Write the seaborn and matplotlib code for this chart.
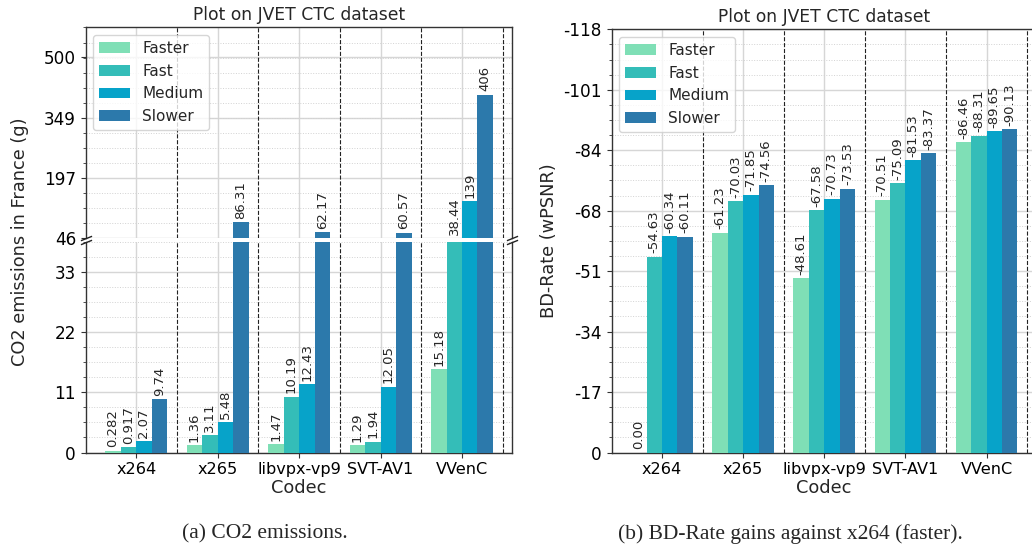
import numpy as np
import pandas as pd
import matplotlib
matplotlib.use("Agg")
import matplotlib.pyplot as plt
from matplotlib.ticker import AutoMinorLocator
import seaborn as sns

# ---------------- data ----------------
codecs = ["x264", "x265", "libvpx-vp9", "SVT-AV1", "VVenC"]
presets = ["Faster", "Fast", "Medium", "Slower"]

co2_faster = [0.282, 1.36, 1.47, 1.29, 15.18]
co2_fast = [0.917, 3.11, 10.19, 1.94, 38.44]
co2_medium = [2.07, 5.48, 12.43, 12.05, 139]
co2_slower = [9.74, 86.31, 62.17, 60.57, 406]

bd_faster = [0.00, -61.23, -48.61, -70.51, -86.46]
bd_fast = [-54.63, -70.03, -67.58, -75.09, -88.31]
bd_medium = [-60.34, -71.85, -70.73, -81.53, -89.65]
bd_slower = [-60.11, -74.56, -73.53, -83.37, -90.13]

colors = ["#7fdfb6", "#34bdb8", "#07a3c9", "#2c79ab"]

co2_top_ticks = [46, 197, 349, 500]
co2_bottom_ticks = [0, 11, 22, 33]
bd_tick_labels = ["0", "-17", "-34", "-51", "-68", "-84", "-101", "-118"]

co2_series = [co2_faster, co2_fast, co2_medium, co2_slower]
bd_series = [bd_faster, bd_fast, bd_medium, bd_slower]

rows = []
for p, cs, bs in zip(presets, co2_series, bd_series):
    for c, cv, bv in zip(codecs, cs, bs):
        rows.append({"Codec": c, "Preset": p, "CO2": cv, "BD": bv})
df = pd.DataFrame(rows)

# ---------------- style ----------------
sns.set_theme(style="ticks")
plt.rcParams["font.family"] = ["DejaVu Sans"]
plt.rcParams["axes.edgecolor"] = "#333333"
plt.rcParams["xtick.color"] = "#333333"
plt.rcParams["ytick.color"] = "#333333"
plt.rcParams["xtick.labelcolor"] = "black"
plt.rcParams["ytick.labelcolor"] = "black"

W, H = 1032, 549
fig = plt.figure(figsize=(W / 100, H / 100), dpi=100)

def fx(px):
    return px / W

def fy(py):
    return 1 - py / H

ax_top = fig.add_axes([fx(85.7), fy(238.5), fx(511.7) - fx(85.7), fy(27.3) - fy(238.5)])
ax_bot = fig.add_axes([fx(85.7), fy(452.5), fx(511.7) - fx(85.7), fy(241.7) - fy(452.5)])
ax_bd = fig.add_axes([fx(611.7), fy(452.5), fx(1036) - fx(611.7), fy(29.3) - fy(452.5)])

YTICK_FS = 12.2
XTICK_FS = 11.6
LABEL_FS = 12.8
BAR_FS = 9.5
LEG_FS = 11


def draw(ax, y, legend):
    sns.barplot(data=df, x="Codec", y=y, hue="Preset", order=codecs,
                hue_order=presets, palette=colors, width=0.76, saturation=1,
                linewidth=0, errorbar=None, legend=legend, ax=ax, zorder=3)


def style(ax):
    ax.set_xlim(-0.62, 4.61)
    ax.yaxis.set_minor_locator(AutoMinorLocator(4))
    ax.set_axisbelow(True)
    ax.xaxis.grid(True, which="major", color="#d6d6d6", lw=1.0, ls="-")
    ax.yaxis.grid(True, which="major", color="#d6d6d6", lw=1.0, ls="-")
    ax.yaxis.grid(True, which="minor", color="#d2d2d2", lw=0.7, ls=":")
    for xs in np.arange(0.5, len(codecs), 1.0):
        ax.axvline(xs, color="#222222", lw=0.8, ls="--", zorder=2)
    for s in ax.spines.values():
        s.set_visible(True)
        s.set_color("#333333")
        s.set_linewidth(1.0)
    ax.tick_params(axis="y", which="major", labelsize=YTICK_FS, length=3.5, width=0.8)
    ax.tick_params(axis="x", which="major", labelsize=XTICK_FS, length=3.5, width=0.8)
    ax.tick_params(axis="y", which="minor", length=2, width=0.6)
    ax.tick_params(axis="x", which="minor", bottom=False)
    ax.set_ylabel("")


# ---------- left: CO2 broken axis ----------
draw(ax_top, "CO2", True)
draw(ax_bot, "CO2", False)
for ax in (ax_top, ax_bot):
    style(ax)

ax_top.set_ylim(46, 575)
ax_top.set_yticks(co2_top_ticks)
ax_top.set_yticklabels([str(t) for t in co2_top_ticks])
ax_bot.set_ylim(0, 38.5)
ax_bot.set_yticks(co2_bottom_ticks)
ax_bot.set_yticklabels([str(t) for t in co2_bottom_ticks])

ax_top.spines["bottom"].set_visible(False)
ax_bot.spines["top"].set_visible(False)
ax_top.tick_params(axis="x", which="both", bottom=False, labelbottom=False)
ax_top.set_xlabel("")
ax_bot.set_xlabel("Codec", fontsize=LABEL_FS, labelpad=1)
ax_top.set_title("Plot on JVET CTC dataset", fontsize=12.3, pad=5)

# break marks
d = 0.4
kw = dict(marker=[(-1, -d), (1, d)], markersize=8, linestyle="none",
          color="#222222", mec="#222222", mew=1, clip_on=False, zorder=10)
ax_top.plot([0, 1], [0, 0], transform=ax_top.transAxes, **kw)
ax_bot.plot([0, 1], [1, 1], transform=ax_bot.transAxes, **kw)

low_top = 46
split = 0.9 * 38.5
for cont, vals in zip(ax_bot.containers, co2_series):
    for bar, v in zip(cont, vals):
        xc = bar.get_x() + bar.get_width() / 2
        label = f"{v:g}"
        if v < split:
            ax_bot.annotate(label, (xc, v), xytext=(0, 2.5), textcoords="offset points",
                            rotation=90, ha="center", va="bottom", fontsize=BAR_FS, zorder=5)
        else:
            ax_top.annotate(label, (xc, max(v, low_top)), xytext=(0, 2.5),
                            textcoords="offset points", rotation=90, ha="center",
                            va="bottom", fontsize=BAR_FS, zorder=5)

leg = ax_top.legend(loc="upper left", fontsize=LEG_FS, frameon=True, labelspacing=0.5)
leg.get_frame().set_edgecolor("#cccccc")

fig.text(fx(20), fy(242), "CO2 emissions in France (g)", rotation=90,
         ha="center", va="center", fontsize=LABEL_FS)

# ---------- right: BD-rate ----------
draw(ax_bd, "BD", True)
style(ax_bd)
bd_ticks = np.linspace(0, -118, len(bd_tick_labels))
ax_bd.set_ylim(0, -118)
ax_bd.set_yticks(bd_ticks)
ax_bd.set_yticklabels(bd_tick_labels)
ax_bd.yaxis.set_minor_locator(AutoMinorLocator(4))
ax_bd.set_xlabel("Codec", fontsize=LABEL_FS, labelpad=1)
ax_bd.set_ylabel("BD-Rate (wPSNR)", fontsize=LABEL_FS)
ax_bd.set_title("Plot on JVET CTC dataset", fontsize=12.3, pad=5)
for cont, vals in zip(ax_bd.containers, bd_series):
    for bar, v in zip(cont, vals):
        xc = bar.get_x() + bar.get_width() / 2
        ax_bd.annotate(f"{v:.2f}", (xc, v), xytext=(0, 2.5), textcoords="offset points",
                       rotation=90, ha="center", va="bottom", fontsize=BAR_FS, zorder=5)
leg2 = ax_bd.legend(loc="upper left", fontsize=LEG_FS, frameon=True, labelspacing=0.5)
leg2.get_frame().set_edgecolor("#cccccc")

# ---------- sub-captions ----------
fig.text(fx(265), fy(534), "(a) CO2 emissions.", ha="center", va="center",
         fontsize=15.5, family=["Liberation Serif", "DejaVu Serif"])
fig.text(fx(790), fy(534), "(b) BD-Rate gains against x264 (faster).", ha="center",
         va="center", fontsize=15.5, family=["Liberation Serif", "DejaVu Serif"])

fig.savefig("out.png", dpi=100, facecolor="white")
